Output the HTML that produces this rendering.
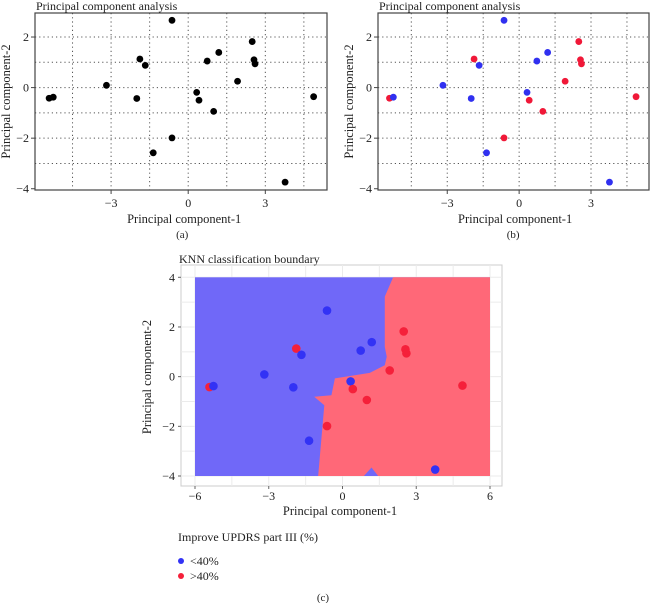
<!DOCTYPE html>
<html><head><meta charset="utf-8"><style>
body{margin:0;background:#fff;}
svg{display:block;font-family:"Liberation Serif",serif;}
</style></head><body>
<svg id="s" width="650" height="603"></svg>
<script>
const xs=[-5.41,-5.25,-3.18,-1.88,-1.67,-2.0,-0.63,-0.63,-1.36,0.33,0.42,0.99,0.74,1.19,1.92,2.49,2.56,2.6,3.77,4.88];
const ys=[-0.42,-0.38,0.09,1.13,0.88,-0.43,2.66,-1.99,-2.58,-0.19,-0.5,-0.94,1.05,1.39,0.25,1.82,1.1,0.94,-3.74,-0.36];
const cls=[1,0,0,1,0,0,0,1,0,0,1,1,0,0,1,1,1,1,0,1];
const xTicksAB=[-3,0,3];
const yTicksAB=[-4,-2,0,2];
const xTicksC=[-6,-3,0,3,6];
const yTicksC=[-4,-2,0,2,4];
const redRegion=[[2.06,4],[6,4],[6,-4],[1.45,-4],[1.18,-3.66],[0.87,-4],[-0.99,-4],[-0.74,-1.15],[-1.15,-0.81],[-0.45,-0.75],[-0.31,-0.07],[1.11,0.15],[1.72,0.46],[1.8,0.8],[1.72,1.2],[1.72,3.22]];
const NS="http://www.w3.org/2000/svg",S=document.getElementById('s');
function el(t,a,p){const e=document.createElementNS(NS,t);for(const k in a)e.setAttribute(k,a[k]);(p||S).appendChild(e);return e;}
function txt(x,y,s,a,p){const e=el('text',Object.assign({x:x,y:y,'font-size':12,fill:'#222'},a||{}),p);e.textContent=s;return e;}

function pca(L,R,xmin,xmax,colored,label,name){
  const g=el('g',{});
  
  
  const T=13,B=190,ymin=-4.05,ymax=2.95;
  const X=v=>L+(v-xmin)/(xmax-xmin)*(R-L),Y=v=>B-(v-ymin)/(ymax-ymin)*(B-T);
  for(let v=-4.5;v<=4.5;v+=1.5){const l=el('line',{x1:X(v),x2:X(v),y1:T,y2:B,stroke:'#555','stroke-dasharray':'1.2,3','stroke-width':1},g);}
  for(let v=-3;v<=2;v++){const l=el('line',{x1:L,x2:R,y1:Y(v),y2:Y(v),stroke:'#555','stroke-dasharray':'1.2,3','stroke-width':1},g);}
  const bx=el('rect',{x:L,y:T,width:R-L,height:B-T,fill:'none',stroke:'#444','stroke-width':1.2},g);
  
  xTicksAB.forEach(v=>{el('line',{x1:X(v),x2:X(v),y1:B,y2:B+4,stroke:'#444'},g);const t=txt(X(v),B+17,v<0?'\u2212'+(-v):String(v),{'text-anchor':'middle'},g);});
  yTicksAB.forEach(v=>{el('line',{x1:L-4,x2:L,y1:Y(v),y2:Y(v),stroke:'#444'},g);const t=txt(L-6,Y(v)+4,v<0?'\u2212'+(-v):String(v),{'text-anchor':'end'},g);});
  const tt=txt(L+1,10,'Principal component analysis',{'font-size':12},g);
  const xt=txt(X(0)-4,B+33,'Principal component-1',{'text-anchor':'middle','font-size':12.5},g);
  const yt=txt(0,0,'Principal component-2',{'text-anchor':'middle','font-size':12.5,transform:`translate(${L-25},${(T+B)/2}) rotate(-90)`},g);
  const pl=txt(X(0)-6,238,label,{'text-anchor':'middle','font-size':11},g);
  xs.forEach((v,i)=>{const c=el('circle',{cx:X(v),cy:Y(ys[i]),r:3.4,fill:colored?(cls[i]?'#f01838':'#3030f0'):'#000'},g);});
}
pca(35,327,-5.96,5.4,false,'(a)','pca-chart-a');
pca(378,649,-5.89,5.42,true,'(b)','pca-chart-b');

// chart c
const gc=el('g',{});


const CL=195,CR=490,CT=277.3,CB=476;
const CX=v=>CL+(v+6)/12*(CR-CL),CY=v=>CB-(v+4)/8*(CB-CT);
const fr=el('rect',{x:181,y:265,width:321,height:221,fill:'#fff',stroke:'#ccc'},gc);

for(let v=-6;v<=6;v+=1.5){el('line',{x1:CX(v),x2:CX(v),y1:265,y2:486,stroke:'#ebebeb'},gc);}
for(let v=-4;v<=4;v+=1){el('line',{x1:181,x2:502,y1:CY(v),y2:CY(v),stroke:'#ebebeb'},gc);}
const blue=el('rect',{x:CL,y:CT,width:CR-CL,height:CB-CT,fill:'#7068f8'},gc);

const red=el('polygon',{points:redRegion.map(p=>CX(p[0])+','+CY(p[1])).join(' '),fill:'#ff6878'},gc);

xTicksC.forEach(v=>{el('line',{x1:CX(v),x2:CX(v),y1:486,y2:489,stroke:'#666'},gc);const t=txt(CX(v),500,v<0?'\u2212'+(-v):String(v),{'text-anchor':'middle'},gc);});
yTicksC.forEach(v=>{el('line',{x1:178,x2:181,y1:CY(v),y2:CY(v),stroke:'#666'},gc);const t=txt(175,CY(v)+4,v<0?'\u2212'+(-v):String(v),{'text-anchor':'end'},gc);});
xs.forEach((v,i)=>{const c=el('circle',{cx:CX(v),cy:CY(ys[i]),r:4.3,fill:cls[i]?'#f5203a':'#3232f5'},gc);});
const ct=txt(179,263,'KNN classification boundary',{'font-size':12},gc);
const cxt=txt(340,515,'Principal component-1',{'text-anchor':'middle','font-size':12.5},gc);
const cyt=txt(0,0,'Principal component-2',{'text-anchor':'middle','font-size':12.5,transform:'translate(151,377) rotate(-90)'},gc);
const lt=txt(178,541,'Improve UPDRS part III (%)',{'font-size':12},gc);
const lb=el('g',{},gc);
el('circle',{cx:181,cy:561,r:3,fill:'#3232f5'},lb);txt(190,565,'<40%',{'font-size':12},lb);
const lr=el('g',{},gc);
el('circle',{cx:181,cy:576,r:3,fill:'#f5203a'},lr);txt(190,580,'>40%',{'font-size':12},lr);
const pc=txt(323,601,'(c)',{'text-anchor':'middle','font-size':11},gc);
</script>
</body></html>
